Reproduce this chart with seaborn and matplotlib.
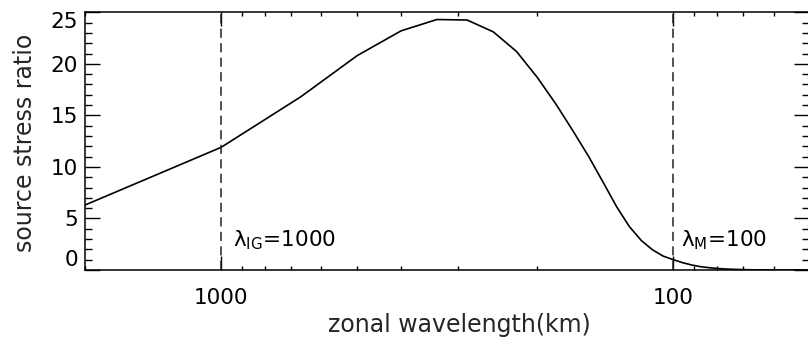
import matplotlib
matplotlib.use("Agg")
import matplotlib.pyplot as plt
import seaborn as sns
import pandas as pd

# zonal wavelength (km) and source stress ratio
wavelength = [2000, 1000, 666.7, 500, 400, 333.3, 285.7, 250, 222.2, 200,
              181.8, 166.7, 153.8, 142.9, 133.3, 125, 117.6, 111.1, 105.3, 100,
              95.2, 90.9, 87.0, 83.3, 80, 76.9, 74.1, 71.4, 69.0, 66.7,
              64.5, 62.5, 60.6, 58.8, 57.1, 55.6, 54.1, 52.6, 51.3, 50]
stress_ratio = [6.3, 11.9, 16.8, 20.8, 23.2, 24.3, 24.25, 23.1, 21.2, 18.7,
                16.1, 13.5, 11.0, 8.5, 6.1, 4.2, 2.85, 1.95, 1.35, 1.0,
                0.7, 0.48, 0.32, 0.22, 0.15, 0.1, 0.07, 0.05, 0.03, 0.02,
                0.01, 0.01, 0.0, 0.0, 0.0, 0.0, 0.0, 0.0, 0.0, 0.0]
ref_lines = [1000, 100]
ref_labels = ["λ$_{\\rm IG}$=1000", "λ$_{\\rm M}$=100"]
xticks = [1000, 100]
yticks = [0, 5, 10, 15, 20, 25]

sns.set_theme(style="ticks")
plt.rcParams["font.family"] = ["DejaVu Sans"]
plt.rcParams["mathtext.fontset"] = "dejavusans"

W, H = 808, 338
fig = plt.figure(figsize=(W / 100, H / 100), dpi=100)
ax = fig.add_axes([85 / W, 1 - 270 / H, (809.4 - 85) / W, (270 - 12.3) / H])

df = pd.DataFrame({"wavelength": wavelength, "ratio": stress_ratio})
sns.lineplot(data=df, x="wavelength", y="ratio", ax=ax, color="black",
             linewidth=1.2, estimator=None, sort=False)

ax.set_xscale("log")
ax.set_xlim(2000, 50)
ax.set_ylim(0, 25)

FS = 15.5
for xv, lab, off in zip(ref_lines, ref_labels, [12, 8]):
    ax.axvline(xv, color="#222222", linewidth=1.1, dashes=(6, 3.5))
    ax.annotate(lab, xy=(xv, 2.9), xytext=(off, 0), textcoords="offset pixels",
                va="center", ha="left", fontsize=FS, color="black")

ax.set_xticks(xticks)
ax.set_xticklabels([str(t) for t in xticks])
ax.set_yticks(yticks)
ax.set_yticklabels([str(t) for t in yticks])
ax.yaxis.set_minor_locator(matplotlib.ticker.MultipleLocator(1))
ax.xaxis.set_minor_formatter(matplotlib.ticker.NullFormatter())

ax.tick_params(axis="both", which="both", direction="in", top=True, right=True,
               colors="black", labelsize=FS, width=1.0)
ax.tick_params(axis="y", which="major", length=10.5, pad=5)
ax.tick_params(axis="y", which="minor", length=5)
ax.tick_params(axis="x", which="major", length=10, pad=13)
ax.tick_params(axis="x", which="minor", length=3)

# end labels nudged inward as in the reference
ylabs = ax.get_yticklabels()
ylabs[0].set_va("bottom")
ylabs[-1].set_va("top")

for s in ax.spines.values():
    s.set_linewidth(1.1)
    s.set_color("black")

ax.set_xlabel("zonal wavelength(km)", fontsize=17)
ax.set_ylabel("source stress ratio", fontsize=17)
ax.xaxis.set_label_coords((459 - 85) / (809.4 - 85), (270 - 325) / (270 - 12.3))
ax.xaxis.label.set_va("center")
ax.yaxis.set_label_coords((25 - 85) / (809.4 - 85), (270 - 143) / (270 - 12.3))
ax.yaxis.label.set_va("center")

fig.savefig("out.png", dpi=100)
